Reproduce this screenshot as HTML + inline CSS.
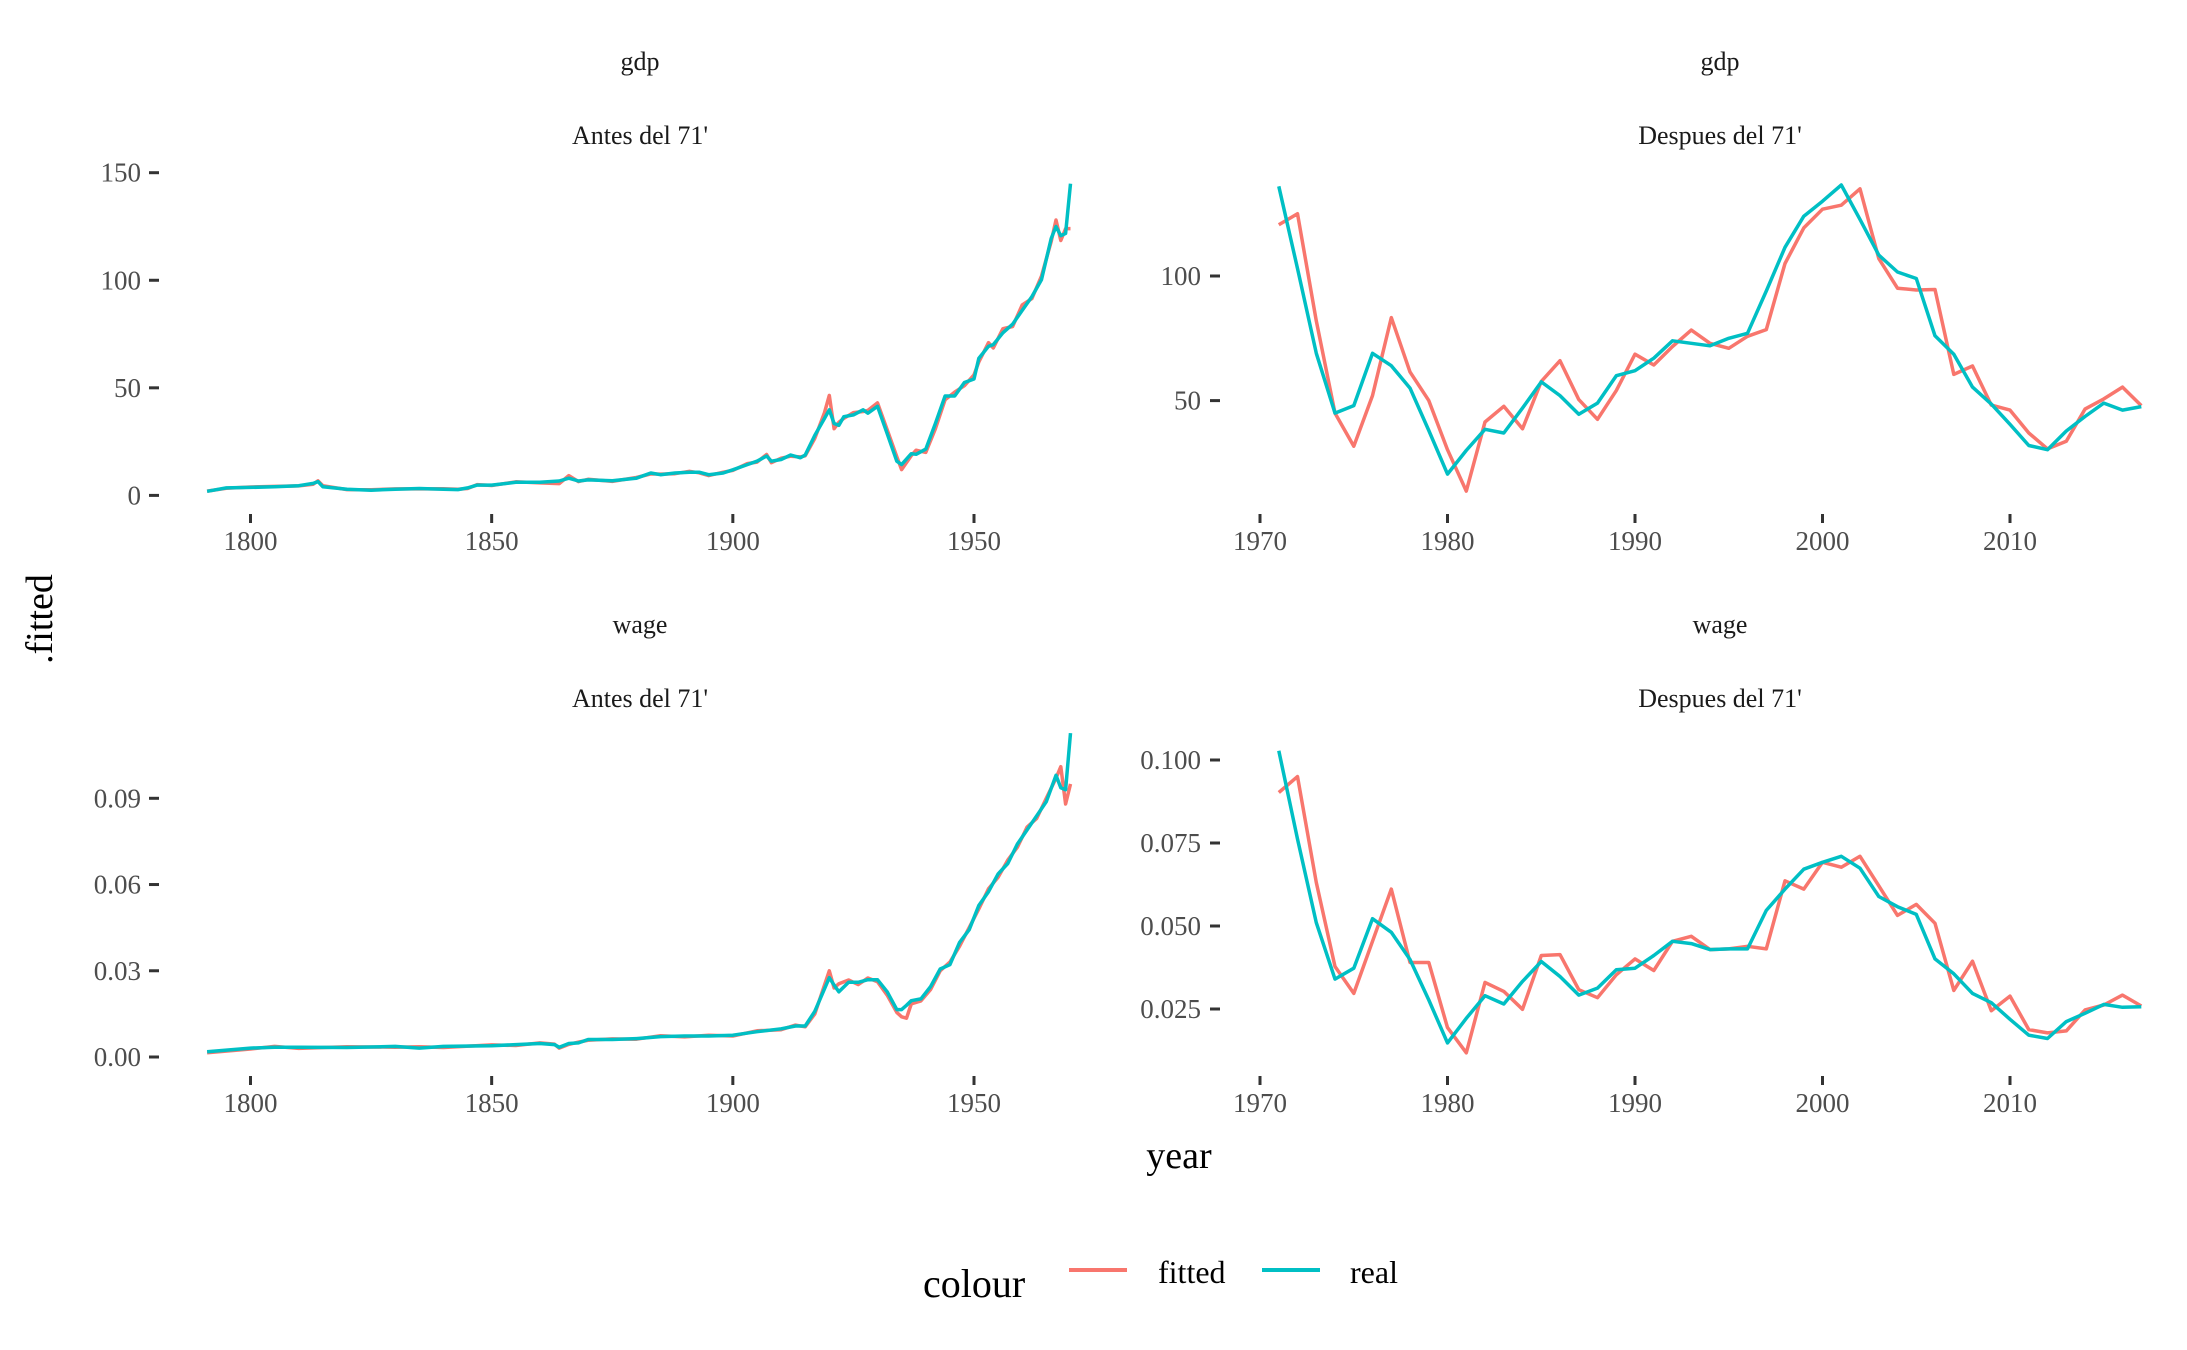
<!DOCTYPE html>
<html><head><meta charset="utf-8">
<style>
html,body{margin:0;padding:0;background:#fff;}
svg{display:block;font-family:"Liberation Serif",serif;}
.tick{fill:#4d4d4d;font-size:27px;}
.strip{fill:#1a1a1a;font-size:26px;}
</style></head>
<body>
<svg id="chart" width="2187" height="1350" viewBox="0 0 2187 1350">
<text x="640" y="70" text-anchor="middle" class="strip">gdp</text>
<text x="640" y="144" text-anchor="middle" class="strip">Antes del 71'</text>
<text x="1720" y="70" text-anchor="middle" class="strip">gdp</text>
<text x="1720" y="144" text-anchor="middle" class="strip">Despues del 71'</text>
<text x="640" y="633" text-anchor="middle" class="strip">wage</text>
<text x="640" y="707" text-anchor="middle" class="strip">Antes del 71'</text>
<text x="1720" y="633" text-anchor="middle" class="strip">wage</text>
<text x="1720" y="707" text-anchor="middle" class="strip">Despues del 71'</text>
<text transform="translate(52,619) rotate(-90)" text-anchor="middle" font-size="38" fill="#000">.fitted</text>
<text x="1179" y="1168" text-anchor="middle" font-size="38" fill="#000">year</text>
<g>
<text x="923" y="1297" font-size="40" fill="#000">colour</text>
<line x1="1069" y1="1270" x2="1127" y2="1270" stroke="#F8766D" stroke-width="4"/>
<text x="1158" y="1283" font-size="32" fill="#000">fitted</text>
<line x1="1262" y1="1270" x2="1320" y2="1270" stroke="#00BFC4" stroke-width="4"/>
<text x="1350" y="1283" font-size="32" fill="#000">real</text>
</g>
<g id="panels"></g>
</svg>
<script>
// Left panels (1791-1970)
const yearsLeft = [1791,1795,1800,1805,1810,1813,1814,1815,1820,1825,1830,1835,1840,1843,1845,1847,1850,1855,1860,1864,1866,1868,1870,1875,1880,1883,1885,1888,1891,1893,1895,1898,1900,1903,1905,1907,1908,1910,1912,1914,1915,1917,1919,1920,1921,1922,1923,1925,1927,1928,1930,1932,1934,1935,1937,1938,1940,1942,1944,1946,1948,1950,1951,1953,1954,1956,1958,1960,1962,1964,1966,1967,1968,1969,1970];
const gdpRealLeft = [1.9,3.5,3.7,4.0,4.5,5.6,6.4,4.0,2.9,2.4,2.9,3.2,2.9,2.7,3.5,4.8,4.8,6.1,6.1,6.7,8.0,6.7,7.2,6.8,8.0,10.4,9.6,10.4,10.8,10.8,9.6,10.4,11.9,14.3,15.9,18.3,15.9,16.7,18.8,17.5,18.8,27.9,35.8,39.8,33.4,32.6,36.6,37.4,39.8,38.2,41.4,28.7,15.9,14.3,19.4,19.1,21.5,33.4,46.2,46.2,52.5,54.1,63.7,69.3,70.1,75.6,79.6,86.0,92.4,100.3,119.4,125.0,120.7,121.8,144.9];
const gdpFitLeft = [2.0,3.3,3.9,4.2,4.4,5.2,6.8,4.5,2.7,2.6,3.0,3.0,3.1,2.9,3.2,5.0,4.6,6.3,5.8,5.5,9.2,6.4,7.5,6.5,8.3,10.0,9.9,10.1,11.2,10.5,9.2,10.8,11.6,14.8,15.5,19.0,15.2,17.3,18.2,17.9,18.4,26.5,38.5,46.5,31.0,34.0,35.8,38.5,39.0,39.5,43.0,30.5,18.0,12.0,18.5,21.0,20.0,31.0,44.5,48.0,51.0,56.0,62.0,71.0,68.5,77.5,78.5,88.5,91.5,102.0,118.0,128.0,118.5,124.0,124.0];
const yearsWageLeft = [1791,1800,1805,1810,1820,1830,1835,1840,1850,1855,1860,1863,1864,1866,1868,1870,1875,1880,1885,1890,1895,1900,1905,1910,1913,1915,1917,1920,1921,1922,1924,1926,1928,1930,1932,1934,1935,1936,1937,1939,1941,1943,1945,1947,1949,1951,1953,1955,1957,1959,1961,1963,1965,1967,1968,1969,1970];
const wageRealLeft = [0.0018,0.0031,0.0034,0.0034,0.0033,0.0037,0.0031,0.0037,0.0039,0.0043,0.0047,0.0043,0.0034,0.0047,0.0049,0.0061,0.0061,0.0064,0.0071,0.0073,0.0073,0.0076,0.0088,0.0098,0.0108,0.0108,0.0159,0.0276,0.0250,0.0227,0.026,0.026,0.0269,0.0269,0.0227,0.0165,0.0165,0.0180,0.0196,0.0202,0.0245,0.0306,0.0321,0.0398,0.0443,0.0527,0.0575,0.0637,0.0673,0.0741,0.079,0.0839,0.0888,0.098,0.0937,0.093,0.1127];
const wageFitLeft = [0.0015,0.0028,0.0037,0.0030,0.0036,0.0034,0.0036,0.0033,0.0042,0.0040,0.0049,0.0045,0.0031,0.0044,0.0052,0.0058,0.0063,0.0062,0.0074,0.0070,0.0076,0.0073,0.0091,0.0095,0.0111,0.0105,0.0150,0.0300,0.0240,0.0255,0.0268,0.0252,0.0275,0.0262,0.0215,0.0155,0.0140,0.0135,0.0185,0.0195,0.0235,0.0300,0.0330,0.0385,0.0450,0.0515,0.0585,0.0625,0.0685,0.0730,0.0800,0.0830,0.0900,0.0970,0.1010,0.0880,0.0950];
// Right panels (1971-2017)
const yearsRight = [1971,1972,1973,1974,1975,1976,1977,1978,1979,1980,1981,1982,1983,1984,1985,1986,1987,1988,1989,1990,1991,1992,1993,1994,1995,1996,1997,1998,1999,2000,2001,2002,2003,2004,2005,2006,2007,2008,2009,2010,2011,2012,2013,2014,2015,2016,2017];
const gdpRealRight = [136,103,69,45,48,69,64,55,38,20.5,30,38.5,37,47,57.5,52,44.5,49,60,62,67,74,73,72,75,77,94,111.5,124,130,136.5,122.7,108.4,101.6,99,76,68.6,55.4,48.6,40.5,32,30.3,37.8,43.6,49,46.2,47.6];
const gdpFitRight = [120.6,125,82,45,31.7,52,83.3,61.5,50,30.3,13.7,41.4,47.7,38.7,57.7,66,50.4,42.5,54,68.6,64.3,71.7,78.3,73,71,75.8,78.5,105,119.3,126.8,128.4,135,107,95.1,94.4,94.6,60.5,63.9,48.2,46.2,37,30.6,33.7,46.6,50.7,55.4,48];
const wageRealRight = [0.1028,0.0762,0.051,0.034,0.0373,0.0522,0.0481,0.0399,0.0277,0.0148,0.0222,0.029,0.0265,0.0333,0.0393,0.0348,0.0292,0.0313,0.0368,0.0373,0.0411,0.0454,0.0447,0.0429,0.0431,0.0431,0.0547,0.0611,0.0671,0.0692,0.071,0.0674,0.0589,0.0558,0.0535,0.0401,0.0356,0.0297,0.0269,0.0219,0.0171,0.0161,0.0212,0.0237,0.0264,0.0255,0.0257];
const wageFitRight = [0.0902,0.095,0.0631,0.0378,0.0297,0.0454,0.0611,0.039,0.039,0.0194,0.0118,0.033,0.0303,0.0249,0.0411,0.0414,0.0308,0.0284,0.0353,0.0401,0.0366,0.0454,0.0469,0.0429,0.0431,0.0439,0.0431,0.0636,0.0611,0.0692,0.0677,0.071,0.0621,0.0532,0.0565,0.0508,0.0306,0.0394,0.0245,0.0289,0.0188,0.0178,0.0184,0.0247,0.0262,0.0292,0.0259];
const xTicksLeft = [1800,1850,1900,1950];
const xTicksRight = [1970,1980,1990,2000,2010];
const yTicksGdpLeft = [0,50,100,150];
const yTicksGdpRight = [50,100];
const yTicksWageLeft = [0,0.03,0.06,0.09];
const yTicksWageLeftLabels = ["0.00","0.03","0.06","0.09"];
const yTicksWageRight = [0.025,0.05,0.075,0.1];
const yTicksWageRightLabels = ["0.025","0.050","0.075","0.100"];

const NS = "http://www.w3.org/2000/svg";
const root = document.getElementById('panels');
function mk(tag, attrs, parent){const e=document.createElementNS(NS,tag);for(const k in attrs)e.setAttribute(k,attrs[k]);(parent||root).appendChild(e);return e;}
function lin(d0,d1,r0,r1){return v=>r0+(v-d0)*(r1-r0)/(d1-d0);}

const panels = [
 {name:'gdp-before', x:lin(1800,1950,250.5,974), y:lin(0,150,495.4,172.7), tickY:514, labelY:550, axisX:159, labelX:141,
  xt:xTicksLeft, yt:yTicksGdpLeft, ytl:yTicksGdpLeft.map(String), series:[[yearsLeft,gdpFitLeft,'fitted'],[yearsLeft,gdpRealLeft,'real']]},
 {name:'gdp-after', x:lin(1970,2010,1260,2010), y:lin(50,100,400.6,276), tickY:514, labelY:550, axisX:1220, labelX:1201,
  xt:xTicksRight, yt:yTicksGdpRight, ytl:yTicksGdpRight.map(String), series:[[yearsRight,gdpFitRight,'fitted'],[yearsRight,gdpRealRight,'real']]},
 {name:'wage-before', x:lin(1800,1950,250.5,974), y:lin(0,0.09,1057,798.3), tickY:1076, labelY:1112, axisX:159, labelX:141,
  xt:xTicksLeft, yt:yTicksWageLeft, ytl:yTicksWageLeftLabels, series:[[yearsWageLeft,wageFitLeft,'fitted'],[yearsWageLeft,wageRealLeft,'real']]},
 {name:'wage-after', x:lin(1970,2010,1260,2010), y:lin(0.025,0.1,1009,760), tickY:1076, labelY:1112, axisX:1220, labelX:1201,
  xt:xTicksRight, yt:yTicksWageRight, ytl:yTicksWageRightLabels, series:[[yearsRight,wageFitRight,'fitted'],[yearsRight,wageRealRight,'real']]}
];
const colors = {fitted:'#F8766D', real:'#00BFC4'};

panels.forEach(p=>{
  const g = mk('g',{});
  
  
  p.xt.forEach(t=>{
    const X = p.x(t);
    const tk = mk('line',{x1:X,y1:p.tickY,x2:X,y2:p.tickY+9,stroke:'#333','stroke-width':3},g);
    
    
    const tl = mk('text',{x:X,y:p.labelY,'text-anchor':'middle','class':'tick'},g);
    tl.textContent = t;
    
    
  });
  p.yt.forEach((t,i)=>{
    const Y = p.y(t);
    const tk = mk('line',{x1:p.axisX-10,y1:Y,x2:p.axisX,y2:Y,stroke:'#333','stroke-width':3},g);
    
    
    const tl = mk('text',{x:p.labelX,y:Y+9,'text-anchor':'end','class':'tick'},g);
    tl.textContent = p.ytl[i];
    
    
  });
  p.series.forEach(([xs,ys,key])=>{
    const d = xs.map((v,i)=>(i?'L':'M')+p.x(v).toFixed(1)+','+p.y(ys[i]).toFixed(1)).join('');
    const path = mk('path',{d:d,fill:'none',stroke:colors[key],'stroke-width':3.5,'stroke-linejoin':'round'},g);
    
    
  });
});
</script>
</body></html>
